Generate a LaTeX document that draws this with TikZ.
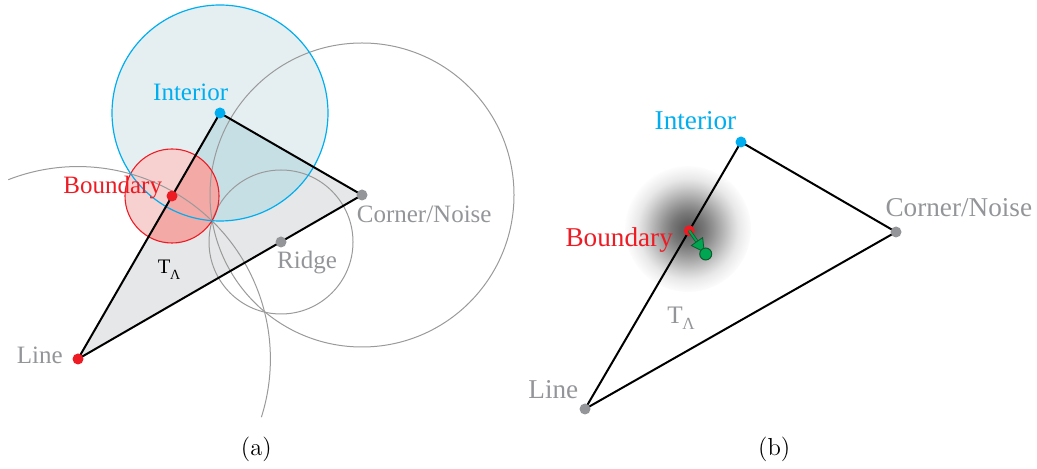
\documentclass[tikz,border=0pt]{standalone}
\usepackage{fontspec}
\setmainfont{Liberation Serif}
\newfontfamily\capfont{Latin Modern Roman}
\usetikzlibrary{arrows.meta}
\definecolor{cyanC}{HTML}{00AEEF}
\definecolor{redC}{HTML}{ED1C24}
\definecolor{grayP}{HTML}{939598}
\definecolor{grayT}{HTML}{939598}
\definecolor{circG}{HTML}{9A9A9A}
\definecolor{triG}{HTML}{E6E7E8}
\definecolor{blueL}{HTML}{E5EFF1}
\definecolor{blueD}{HTML}{C6DFE5}
\definecolor{pinkL}{HTML}{F7D1D0}
\definecolor{pinkD}{HTML}{F3A9A6}
\definecolor{agreen}{HTML}{00A651}
\definecolor{dgreen}{HTML}{0E5A2C}
\pgfdeclareradialshading{blob}{\pgfpoint{0bp}{0bp}}{color(0bp)=(black!64); color(3bp)=(black!61); color(6.5bp)=(black!53); color(10bp)=(black!42); color(13.5bp)=(black!30); color(17bp)=(black!18); color(20bp)=(black!9); color(23bp)=(black!4); color(25bp)=(black!1); color(26bp)=(white); color(50bp)=(white)}
\newcommand{\tlam}[2]{T\kern-0.02em\raisebox{-#2}{\fontsize{#1}{#1}\selectfont Λ}}
\begin{document}
\begin{tikzpicture}[x=0.5pt,y=-0.5pt,
  dot/.style={circle, inner sep=0pt, minimum size=5.5pt},
  lbl/.style={font=\fontsize{12.5}{15}\selectfont, anchor=base, inner sep=0pt},
  rlbl/.style={font=\fontsize{13.6}{16}\selectfont, anchor=base, inner sep=0pt},
  captxt/.style={font=\capfont\fontsize{12.3}{15}\selectfont, anchor=base, inner sep=0pt},
  edge/.style={line width=1pt, black, line join=round},
  gcirc/.style={draw=circG, line width=0.5pt}]
\useasboundingbox (0,0) rectangle (1037,469);
% ---------------- panel (a)
\coordinate (aI) at (220,113);
\coordinate (aB) at (172,196);
\coordinate (aC) at (362,195);
\coordinate (aR) at (281,242);
\coordinate (aL) at (78,359);
\fill[triG] (aL) -- (aI) -- (aC) -- cycle;
\fill[blueL] (aI) circle[radius=108];
\begin{scope}
  \clip (aL) -- (aI) -- (aC) -- cycle;
  \fill[blueD] (aI) circle[radius=108];
\end{scope}
\fill[pinkL] (aB) circle[radius=47];
\begin{scope}
  \clip (aL) -- (aI) -- (aC) -- cycle;
  \fill[pinkD] (aB) circle[radius=47];
\end{scope}
\draw[gcirc] (aC) circle[radius=152];
\draw[gcirc] (aR) circle[radius=72];
\draw[gcirc] (aL) ++(-111.25:192.4) arc[start angle=-111.25, end angle=17.6, radius=192.4];
\draw[redC, line width=0.55pt] (aB) circle[radius=47];
\draw[cyanC, line width=0.6pt] (aI) circle[radius=108];
\draw[edge] (aL) -- (aI) -- (aC) -- cycle;
\node[dot, fill=cyanC] (naI) at (aI) {};
\node[dot, fill=redC] (naB) at (aB) {};
\node[dot, fill=grayP] (naC) at (aC) {};
\node[dot, fill=grayP] (naR) at (aR) {};
\node[dot, fill=redC] (naL) at (aL) {};
\node[lbl, text=cyanC] (taI) at (190.7,100.7) {Interior};
\node[lbl, text=redC] (taB) at (112.7,193.3) {Boundary};
\node[lbl, text=grayT] (taC) at (424.2,222.7) {Corner/Noise};
\node[lbl, text=grayT] (taR) at (307,269) {Ridge};
\node[lbl, text=grayT] (taL) at (39.8,363.3) {Line};
\node[anchor=base, inner sep=0pt, font=\fontsize{10.3}{12}\selectfont] (taT) at (169,273.3) {\tlam{7}{3.2pt}};
\node[captxt] (capa) at (256.3,455) {(a)};
% ---------------- panel (b)
\coordinate (bI) at (741,142);
\coordinate (bB) at (689.3,230.7);
\coordinate (bC) at (896,232);
\coordinate (bL) at (585,409);
\coordinate (bG) at (705.7,254);
\shade[shading=blob] (688,229) circle[radius=63];
\draw[edge] (bL) -- (bI) -- (bC) -- cycle;
\node[dot, fill=cyanC] (nbI) at (bI) {};
\node[dot, fill=redC] (nbB) at (bB) {};
\node[dot, fill=grayP] (nbC) at (bC) {};
\node[dot, fill=grayP] (nbL) at (bL) {};
\draw[dgreen, line width=1.6pt, shorten >=6pt] (nbB.center) -- (bG);
\draw[agreen, line width=0.9pt, shorten >=0.8pt, -{Triangle[length=7pt,width=7.5pt,fill=agreen,color=dgreen,line width=0.4pt]}] (nbB.center) -- (bG);
\node[dot, fill=agreen, draw=dgreen, line width=0.5pt, minimum size=6pt] (nbG) at (bG) {};
\node[rlbl, text=cyanC] (tbI) at (695.5,129.3) {Interior};
\node[rlbl, text=redC] (tbB) at (619.2,246.7) {Boundary};
\node[rlbl, text=grayT] (tbC) at (958.8,216.7) {Corner/Noise};
\node[rlbl, text=grayT] (tbL) at (553.3,399) {Line};
\node[anchor=base, inner sep=0pt, text=grayT, font=\fontsize{12.6}{15}\selectfont] (tbT) at (681,323.3) {\tlam{8.5}{3pt}};
\node[captxt] (capb) at (774.2,455) {(b)};
\end{tikzpicture}
\end{document}
